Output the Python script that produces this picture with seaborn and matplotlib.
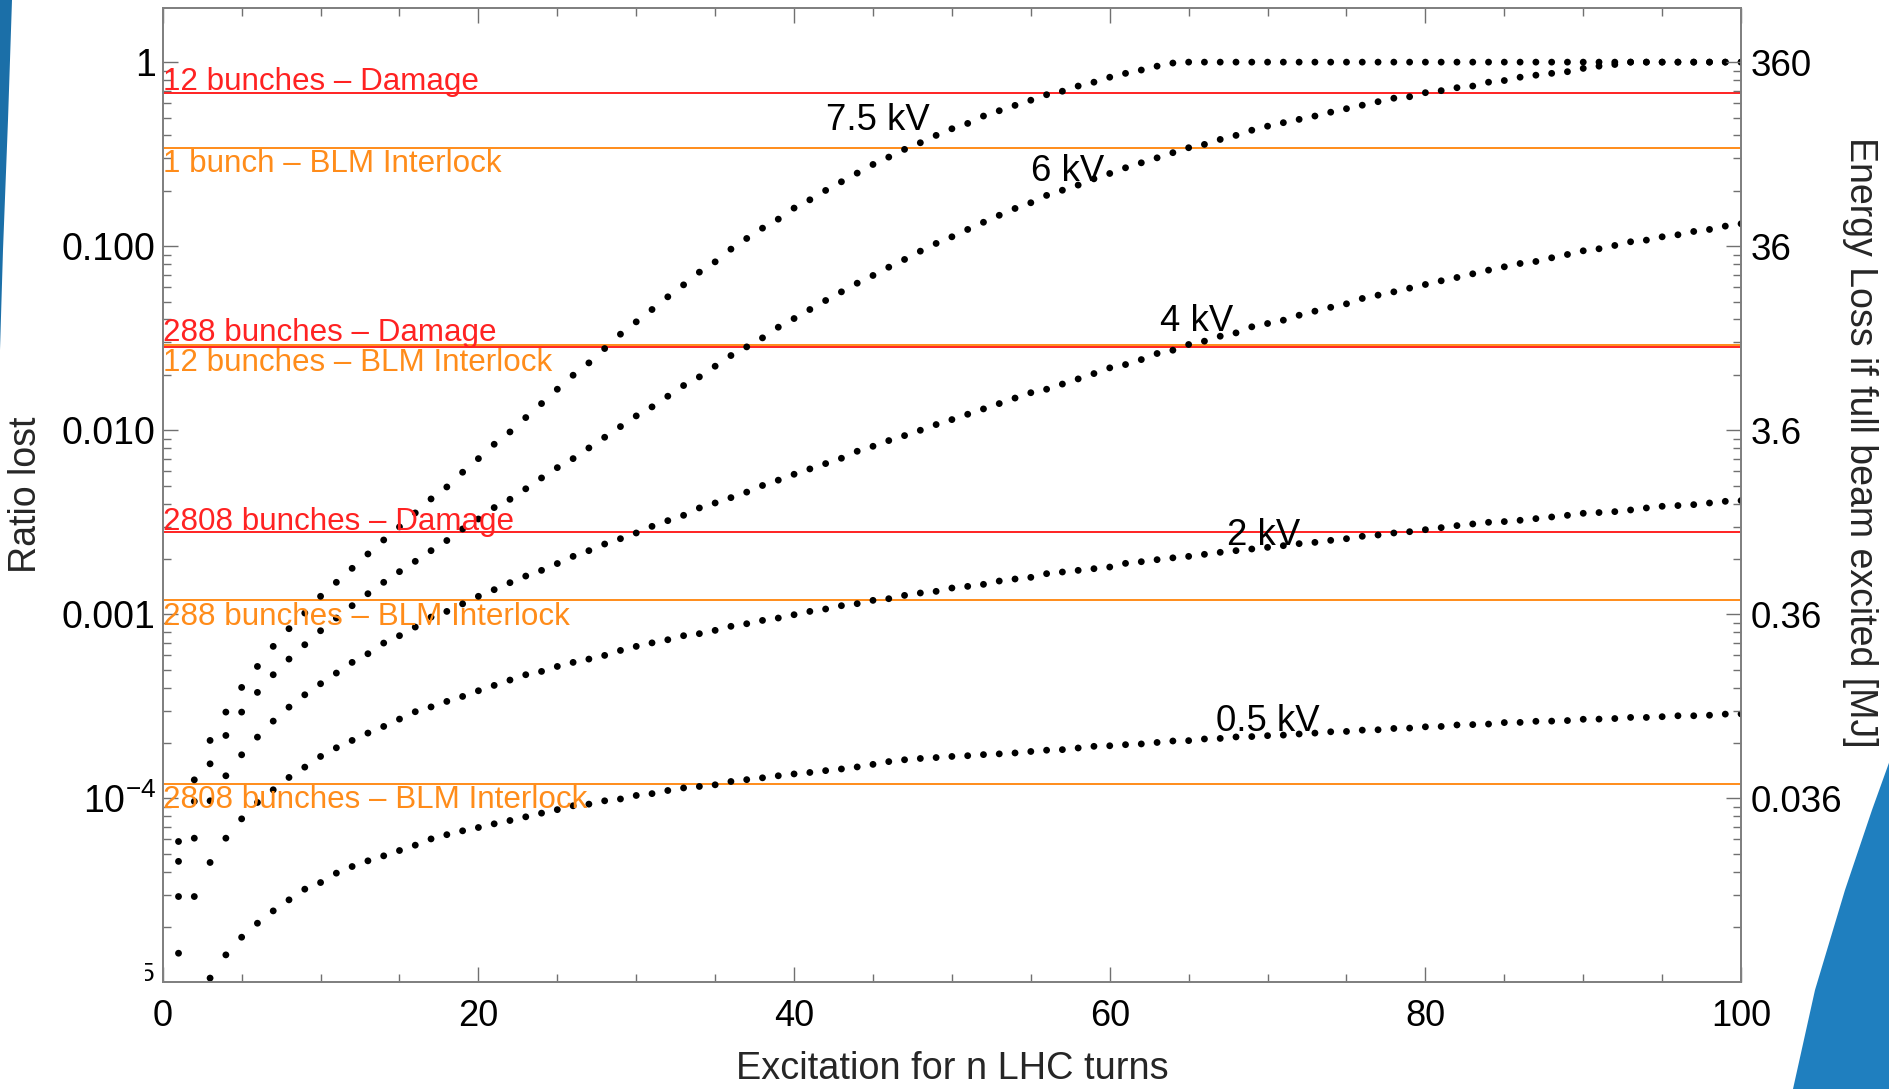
import numpy as np
import pandas as pd
import matplotlib
matplotlib.use("Agg")
import matplotlib.pyplot as plt
import seaborn as sns
from matplotlib.ticker import FixedLocator, FixedFormatter, NullFormatter, MultipleLocator, LogLocator
from matplotlib.patches import Polygon
from matplotlib.transforms import Bbox, TransformedBbox, blended_transform_factory

# ---------------- data (log10 of ratio lost) ----------------
turns = list(range(1, 101))

log_ratio_7p5kV = [
    -4.234, -3.899, -3.685, -3.531, -3.397, -3.283, -3.174, -3.078, -2.993, -2.902,
    -2.826, -2.750, -2.672, -2.596, -2.525, -2.449, -2.373, -2.308, -2.228, -2.154,
    -2.076, -2.009, -1.931, -1.855, -1.777, -1.701, -1.634, -1.556, -1.478, -1.411,
    -1.344, -1.275, -1.210, -1.141, -1.085, -1.016, -0.958, -0.902, -0.853, -0.793,
    -0.748, -0.697, -0.650, -0.603, -0.556, -0.516, -0.474, -0.438, -0.398, -0.362,
    -0.333, -0.293, -0.264, -0.235, -0.207, -0.177, -0.158, -0.130, -0.109, -0.082,
    -0.061, -0.043, -0.022, -0.005, 0.0, 0.0, 0.0, 0.0, 0.0, 0.0,
    0.0, 0.0, 0.0, 0.0, 0.0, 0.0, 0.0, 0.0, 0.0, 0.0,
    0.0, 0.0, 0.0, 0.0, 0.0, 0.0, 0.0, 0.0, 0.0, 0.0,
    0.0, 0.0, 0.0, 0.0, 0.0, 0.0, 0.0, 0.0, 0.0, 0.0,
]
log_ratio_6kV = [
    -4.342, -4.016, -3.812, -3.658, -3.531, -3.424, -3.328, -3.243, -3.165, -3.089,
    -3.020, -2.953, -2.888, -2.826, -2.768, -2.712, -2.654, -2.599, -2.536, -2.482,
    -2.420, -2.375, -2.318, -2.259, -2.203, -2.154, -2.096, -2.038, -1.980, -1.922,
    -1.873, -1.815, -1.757, -1.710, -1.652, -1.594, -1.547, -1.498, -1.440, -1.393,
    -1.344, -1.295, -1.248, -1.201, -1.159, -1.114, -1.072, -1.027, -0.985, -0.949,
    -0.909, -0.870, -0.832, -0.795, -0.764, -0.724, -0.696, -0.668, -0.634, -0.605,
    -0.574, -0.547, -0.520, -0.492, -0.465, -0.447, -0.420, -0.398, -0.370, -0.348,
    -0.329, -0.311, -0.293, -0.272, -0.253, -0.234, -0.215, -0.196, -0.188, -0.166,
    -0.155, -0.139, -0.130, -0.109, -0.100, -0.082, -0.071, -0.061, -0.052, -0.034,
    -0.022, -0.013, 0.0, 0.0, 0.0, 0.0, 0.0, 0.0, 0.0, 0.0,
]
log_ratio_4kV = [
    -4.533, -4.216, -4.013, -3.877, -3.763, -3.667, -3.580, -3.504, -3.437, -3.377,
    -3.319, -3.261, -3.214, -3.156, -3.116, -3.069, -3.015, -2.984, -2.943, -2.902,
    -2.866, -2.828, -2.792, -2.761, -2.724, -2.685, -2.654, -2.618, -2.589, -2.558,
    -2.522, -2.491, -2.462, -2.422, -2.395, -2.366, -2.336, -2.300, -2.271, -2.239,
    -2.210, -2.181, -2.152, -2.114, -2.087, -2.056, -2.029, -2.000, -1.969, -1.942,
    -1.913, -1.884, -1.855, -1.825, -1.796, -1.777, -1.749, -1.721, -1.692, -1.661,
    -1.643, -1.616, -1.583, -1.565, -1.534, -1.516, -1.489, -1.471, -1.438, -1.420,
    -1.402, -1.375, -1.353, -1.332, -1.313, -1.284, -1.266, -1.248, -1.228, -1.208,
    -1.188, -1.170, -1.150, -1.130, -1.112, -1.094, -1.083, -1.063, -1.045, -1.025,
    -1.014, -0.996, -0.976, -0.967, -0.949, -0.938, -0.920, -0.909, -0.891, -0.878,
]
log_ratio_2kV = [
    -4.841, -4.533, -4.348, -4.216, -4.111, -4.022, -3.953, -3.886, -3.830, -3.772,
    -3.725, -3.685, -3.645, -3.609, -3.569, -3.529, -3.503, -3.473, -3.446, -3.415,
    -3.386, -3.357, -3.328, -3.310, -3.283, -3.261, -3.243, -3.223, -3.196, -3.174,
    -3.155, -3.138, -3.116, -3.105, -3.087, -3.065, -3.051, -3.033, -3.020, -3.002,
    -2.984, -2.971, -2.953, -2.942, -2.924, -2.915, -2.897, -2.884, -2.875, -2.857,
    -2.848, -2.837, -2.819, -2.808, -2.799, -2.779, -2.770, -2.761, -2.752, -2.743,
    -2.723, -2.714, -2.703, -2.693, -2.685, -2.674, -2.663, -2.654, -2.645, -2.636,
    -2.627, -2.616, -2.609, -2.598, -2.589, -2.576, -2.569, -2.558, -2.551, -2.540,
    -2.529, -2.518, -2.509, -2.500, -2.496, -2.489, -2.480, -2.471, -2.462, -2.451,
    -2.447, -2.442, -2.433, -2.422, -2.413, -2.409, -2.404, -2.395, -2.386, -2.382,
]
log_ratio_0p5kV = [
    None, None, -4.976, -4.850, -4.754, -4.678, -4.611, -4.551, -4.493, -4.457,
    -4.406, -4.370, -4.339, -4.312, -4.283, -4.254, -4.220, -4.197, -4.176, -4.158,
    -4.138, -4.120, -4.100, -4.080, -4.061, -4.040, -4.031, -4.013, -4.003, -3.984,
    -3.974, -3.957, -3.943, -3.935, -3.926, -3.908, -3.898, -3.888, -3.877, -3.867,
    -3.859, -3.849, -3.840, -3.829, -3.815, -3.800, -3.790, -3.783, -3.778, -3.772,
    -3.768, -3.762, -3.758, -3.753, -3.745, -3.738, -3.735, -3.726, -3.717, -3.714,
    -3.708, -3.704, -3.696, -3.688, -3.686, -3.677, -3.674, -3.666, -3.664, -3.659,
    -3.656, -3.650, -3.645, -3.638, -3.636, -3.629, -3.627, -3.620, -3.618, -3.611,
    -3.609, -3.601, -3.599, -3.596, -3.588, -3.587, -3.581, -3.580, -3.577, -3.570,
    -3.569, -3.566, -3.560, -3.560, -3.556, -3.551, -3.551, -3.548, -3.542, -3.541,
]

voltage_labels = ["7.5 kV", "6 kV", "4 kV", "2 kV", "0.5 kV"]
label_turns = [42.0, 55.0, 63.2, 67.4, 66.75]
label_ratio = [0.427, 0.2255, 0.0345, 0.00237, 2.31e-4]

threshold_labels = [
    "12 bunches \u2013 Damage",
    "1 bunch \u2013 BLM Interlock",
    "12 bunches \u2013 BLM Interlock",
    "288 bunches \u2013 Damage",
    "2808 bunches \u2013 Damage",
    "288 bunches \u2013 BLM Interlock",
    "2808 bunches \u2013 BLM Interlock",
]
threshold_ratio = [0.676, 0.343, 0.0292, 0.0284, 0.0028, 0.00120, 1.20e-4]
threshold_kind = ["damage", "interlock", "interlock", "damage", "damage", "interlock", "interlock"]

left_tick_values = [1e-4, 1e-3, 1e-2, 1e-1, 1.0]
left_tick_labels = [r"$\mathregular{10^{-4}}$", "0.001", "0.010", "0.100", "1"]
right_tick_labels = ["0.036", "0.36", "3.6", "36", "360"]

# ---------------- styling ----------------
sns.set_theme(style="ticks")
plt.rcParams["font.family"] = ["Liberation Sans", "DejaVu Sans"]
plt.rcParams["mathtext.fontset"] = "custom"
plt.rcParams["mathtext.rm"] = "Liberation Sans"
plt.rcParams["mathtext.it"] = "Liberation Sans:italic"
plt.rcParams["mathtext.bf"] = "Liberation Sans:bold"

RED = "#ff2222"
ORANGE = "#ff8c1a"
GREY = "#707070"
kind_color = {"damage": RED, "interlock": ORANGE}
text_offset_pt = [2.6, -17.3, -18.7, 4.3, 1.8, -18.0, -17.3]

fig = plt.figure(figsize=(18.9, 10.89), dpi=100)
fig.patch.set_facecolor("white")
ax = fig.add_axes([0.0861, 0.0978, 0.9212 - 0.0861, 0.9931 - 0.0978])

series = {
    "7.5 kV": log_ratio_7p5kV,
    "6 kV": log_ratio_6kV,
    "4 kV": log_ratio_4kV,
    "2 kV": log_ratio_2kV,
    "0.5 kV": log_ratio_0p5kV,
}
frames = []
for name, vals in series.items():
    v = np.array([np.nan if x is None else x for x in vals], dtype=float)
    frames.append(pd.DataFrame({"turns": turns, "ratio": 10.0 ** v, "voltage": name}))
df = pd.concat(frames, ignore_index=True).dropna()

ax.set_yscale("log")
ax.set_xlim(0, 100)
ax.set_ylim(1e-5, 1.98)

# threshold lines
for val, kind in zip(threshold_ratio, threshold_kind):
    ax.axhline(val, color=kind_color[kind], lw=1.4, zorder=2)

sns.scatterplot(data=df, x="turns", y="ratio", hue="voltage",
                palette=["black"] * 5, legend=False, s=24, linewidth=0,
                ax=ax, zorder=3)

ax.set_xlabel("")
ax.set_ylabel("")

# threshold labels
for lab, val, kind, off in zip(threshold_labels, threshold_ratio, threshold_kind, text_offset_pt):
    ax.annotate(lab, xy=(0, val), xytext=(0.3, off), textcoords="offset points",
                ha="left", va="baseline", color=kind_color[kind], fontsize=22.6,
                annotation_clip=False, zorder=4)

# voltage labels
for lab, xn, yv in zip(voltage_labels, label_turns, label_ratio):
    ax.text(xn, yv, lab, ha="left", va="baseline", fontsize=26.3, color="black", zorder=4)

# ticks
ax.xaxis.set_major_locator(MultipleLocator(20))
ax.xaxis.set_minor_locator(MultipleLocator(5))
ax.yaxis.set_major_locator(FixedLocator(left_tick_values))
ax.yaxis.set_major_formatter(FixedFormatter(left_tick_labels))
ax.yaxis.set_minor_locator(LogLocator(base=10, subs=np.arange(2, 10), numticks=30))
ax.yaxis.set_minor_formatter(NullFormatter())
ax.tick_params(axis="both", which="both", direction="in", color=GREY, labelcolor="black",
               top=True, right=False, width=1.0)
ax.tick_params(which="major", length=11)
ax.tick_params(which="minor", length=5.5)
ax.tick_params(axis="y", labelsize=27, pad=5)
ax.tick_params(axis="x", labelsize=26, pad=12)
for sp in ax.spines.values():
    sp.set_color("#808080")
    sp.set_linewidth(1.3)

ax2 = ax.twinx()
ax2.set_yscale("log")
ax2.set_ylim(ax.get_ylim())
ax2.yaxis.set_major_locator(FixedLocator(left_tick_values))
ax2.yaxis.set_major_formatter(FixedFormatter(right_tick_labels))
ax2.yaxis.set_minor_locator(LogLocator(base=10, subs=np.arange(2, 10), numticks=30))
ax2.yaxis.set_minor_formatter(NullFormatter())
ax2.tick_params(axis="y", which="both", direction="in", color=GREY, labelcolor="black",
                width=1.0, labelsize=26.5, pad=7)
ax2.tick_params(which="major", length=11)
ax2.tick_params(which="minor", length=5.5)
for sp in ax2.spines.values():
    sp.set_color("#808080")
    sp.set_linewidth(1.3)

# partially hidden 10^-5 label at the bottom left
trans = blended_transform_factory(ax.transAxes, ax.transData)
t5 = ax.text(-0.005, 1e-5, r"$\mathregular{10^{-5}}$", transform=trans, ha="right",
             va="center_baseline", fontsize=27, color="black", clip_on=True)
t5.set_clip_box(TransformedBbox(Bbox([[-0.0115, 0.0], [0.0, 1.0]]), ax.transAxes))

# axis titles
fig.text(0.5037, 0.0180, "Excitation for n LHC turns", ha="center", va="center", fontsize=27.3)
fig.text(0.014, 0.546, "Ratio lost", ha="center", va="center", rotation=90, fontsize=27)
fig.text(0.984, 0.594, "Energy Loss if full beam excited [MJ]", ha="center", va="center",
         rotation=270, fontsize=27, zorder=3)

# slide decorations
fig.patches.append(Polygon([(1.0, 1 - 760 / 1089), (1.0, 0.0), (1793 / 1890, 0.0),
                            (1815 / 1890, 1 - 990 / 1089), (1845 / 1890, 1 - 890 / 1089),
                            (1872 / 1890, 1 - 810 / 1089)],
                           closed=True, transform=fig.transFigure, facecolor="#1f7fbf",
                           edgecolor="none", zorder=10))
fig.patches.append(Polygon([(0.0, 1.0), (12 / 1890, 1.0), (8 / 1890, 1 - 120 / 1089),
                            (3 / 1890, 1 - 250 / 1089), (0.0, 1 - 350 / 1089)],
                           closed=True, transform=fig.transFigure, facecolor="#1b6fa8",
                           edgecolor="none", zorder=10))

fig.savefig("out.png", dpi=100)
